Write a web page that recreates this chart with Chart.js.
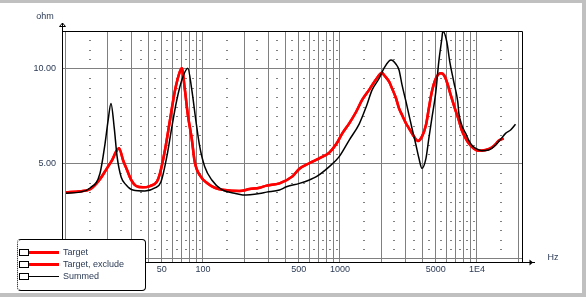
<!DOCTYPE html>
<html>
<head>
<meta charset="utf-8">
<script src="https://cdn.jsdelivr.net/npm/chart.js@4"></script>
<style>
  body { margin:0; background:#c0c0c0; width:586px; height:297px; overflow:hidden; position:relative; }
  #panel { position:absolute; left:0; top:3px; width:582px; height:290px; background:#fff; }
  #chart { position:absolute; left:0; top:0; }
  #legend { position:absolute; left:17px; top:239px; width:127px; height:50px; background:#fff;
            border:1px solid #000; border-left:1px dotted #000; border-radius:4px;
            font:9px "Liberation Sans", Arial, sans-serif; color:#2b3a55; }
  .row { position:absolute; left:0; height:12px; width:125px; }
  .box { position:absolute; left:1px; top:3px; width:8px; height:5px; border:1px solid #000; background:#fff; }
  .ln { position:absolute; left:11px; width:30px; }
  .tx { position:absolute; left:45px; top:0px; line-height:12px; white-space:pre; }
</style>
</head>
<body>
<div id="panel"></div>
<canvas id="chart" width="586" height="297"></canvas>
<div id="legend"></div>
<script>
// impedance curves, ohm over Hz
var targetFreq = [10, 12.7, 15, 17.7, 20, 21.7, 23.2, 24.4, 26.1, 27.9, 29.9, 32.5, 36.5, 41, 46.1, 48.5,
    52.8, 57.4, 62.4, 67.8, 70.1, 73.8, 77.5, 82.9, 87.1, 96.4, 107, 122, 144, 185, 219, 259, 291, 362,
    450, 506, 598, 707, 836, 940, 1040, 1169, 1314, 1452, 1633, 1837, 2030, 2099, 2285, 2400, 2567,
    2700, 2840, 3036, 3192, 3412, 3707, 3969, 4246, 4457, 4688, 5012, 5458, 5741, 6026, 6442, 6902,
    7379, 7745, 8279, 8710, 9484, 10300, 11590, 12820, 13710, 14420, 15670];
var targetOhm = [3.51, 3.56, 3.67, 4.2, 4.8, 5.2, 5.65, 5.83, 5.2, 4.68, 4.16, 3.84, 3.77, 3.84, 4.07, 4.5,
    5.74, 7.3, 8.85, 9.86, 10.04, 8.9, 7.6, 6.3, 5.1, 4.33, 4.0, 3.75, 3.63, 3.58, 3.68, 3.75, 3.86, 3.98,
    4.35, 4.75, 5.04, 5.3, 5.6, 6.05, 6.61, 7.14, 7.75, 8.37, 8.9, 9.46, 9.8, 9.68, 9.33, 8.98, 8.46,
    7.93, 7.58, 7.14, 6.88, 6.53, 6.21, 6.44, 7.05, 7.93, 8.8, 9.5, 9.77, 9.68, 9.33, 8.63, 7.93,
    7.3, 6.79, 6.35, 6.09, 5.82, 5.7, 5.74, 5.86, 6.04, 6.23, 6.35];

var summedFreq = [10, 12.7, 15, 17.7, 19.3, 20.3, 21.3, 22.5, 23.6, 25.3, 27.5, 30.8, 37.7, 44.6, 49.3,
    54.5, 59.3, 64.4, 70.1, 77.5, 82.9, 88.7, 94.8, 103, 116, 137, 170, 195, 259, 291, 362, 407, 506,
    598, 673, 836, 988, 1169, 1381, 1553, 1718, 1931, 2099, 2285, 2360, 2567, 2700, 2840, 3036, 3192,
    3357, 3589, 3773, 3969, 4246, 4457, 4688, 5012, 5272, 5546, 5636, 6026, 6339, 6776, 7244, 7379,
    7745, 8279, 8710, 9162, 9795, 10840, 12190, 13710, 14900, 16190, 17620, 19140];
var summedOhm = [3.46, 3.52, 3.74, 4.5, 6.1, 7.3, 8.19, 6.9, 5.4, 4.3, 3.9, 3.63, 3.58, 3.74, 4.05,
    5.4, 6.96, 8.37, 9.42, 10.04, 8.9, 7.3, 5.9, 4.86, 4.16, 3.65, 3.46, 3.37, 3.45, 3.52, 3.63, 3.8, 3.98,
    4.16, 4.33, 4.86, 5.39, 6.26, 7.1, 8.0, 8.9, 9.5, 10.04, 10.42, 10.47, 10.25, 9.95, 9.16, 8.28, 7.58,
    6.88, 6.0, 5.3, 4.77, 5.3, 6.35, 7.4, 8.8, 10.4, 11.6, 12.0, 11.44, 10.38, 9.33, 8.28, 7.68,
    7.05, 6.61, 6.26, 6.0, 5.82, 5.7, 5.74, 6.0, 6.3, 6.61, 6.79, 7.09];

// axes
var xGridFreqs = [10,20,30,40,50,60,70,80,90, 100,200,300,400,500,600,700,800,900,
    1000,2000,3000,4000,5000,6000,7000,8000,9000, 10000,20000];
var xLabelValues = [10, 20, 50, 100, 500, 1000, 5000, 10000];
var xLabelTexts = ["10", "20", "50", "100", "500", "1000", "5000", "1E4"];
var xDotFreqs = [15,25,35,45,55,65,75,85,95, 150,250,350,450,550,650,750,850,950,
    1500,2500,3500,4500,5500,6500,7500,8500,9500, 15000];
var yGridValues = [0, 5, 10];
var yDotValues = [0.5,1,1.5,2,2.5,3,3.5,4,4.5, 5.5,6,6.5,7,7.5,8,8.5,9,9.5, 10.5,11,11.5];

var textColor = "#2b3a55";
var fontFam = "'Liberation Sans', Arial, sans-serif";

function pts(fs, vs) {
    var out = [];
    for (var i = 0; i < fs.length; i++) out.push({x: fs[i], y: vs[i]});
    return out;
}

var frameAndDots = {
    id: "frameAndDots",
    beforeDatasetsDraw: function(chart) {
        var c = chart.ctx, xs = chart.scales.x, ys = chart.scales.y;
        c.save();
        c.fillStyle = "#808080";
        xDotFreqs.forEach(function(f) {
            var px = Math.round(xs.getPixelForValue(f));
            yDotValues.forEach(function(v) {
                var py = Math.round(ys.getPixelForValue(v));
                c.fillRect(px - 1, py, 2, 1);
            });
        });
        c.restore();
    },
    afterDraw: function(chart) {
        var c = chart.ctx, a = chart.chartArea;
        c.save();
        c.strokeStyle = "#000";
        c.fillStyle = "#000";
        c.lineWidth = 1;
        c.beginPath();
        c.moveTo(a.left + 0.5, a.top + 0.5);
        c.lineTo(a.right - 0.5, a.top + 0.5);
        c.lineTo(a.right - 0.5, a.bottom);
        c.stroke();
        // y arrow
        c.beginPath();
        c.moveTo(a.left + 0.5, a.top);
        c.lineTo(a.left + 0.5, a.top - 8);
        c.moveTo(a.left - 2.5, a.top - 4.5);
        c.lineTo(a.left + 3.5, a.top - 4.5);
        c.lineTo(a.left + 0.5, a.top - 8);
        c.closePath();
        c.stroke();
        // x arrow
        c.beginPath();
        c.moveTo(a.right, a.bottom + 0.5);
        c.lineTo(a.right + 12, a.bottom + 0.5);
        c.stroke();
        c.beginPath();
        c.moveTo(a.right + 6.5, a.bottom - 2.5);
        c.lineTo(a.right + 6.5, a.bottom + 3.5);
        c.lineTo(a.right + 10, a.bottom + 0.5);
        c.closePath();
        c.fill();
        c.fillStyle = textColor;
        c.font = "9px " + fontFam;
        c.textBaseline = "middle";
        c.textAlign = "center";
        c.fillText("ohm", 45, 17);
        c.fillText("Hz", 553, 258);
        c.restore();
    }
};

var datasets = [
    {label: "Target", data: pts(targetFreq, targetOhm), borderColor: "#ff0000", borderWidth: 2.5, order: 2},
    {label: "Target, exclude", data: pts(targetFreq, targetOhm), borderColor: "#ff0000", borderWidth: 2.5, order: 1},
    {label: "Summed", data: pts(summedFreq, summedOhm), borderColor: "#000000", borderWidth: 1.5, order: 0}
];
datasets.forEach(function(d) {
    d.pointRadius = 0;
    d.fill = false;
    d.cubicInterpolationMode = "monotone";
});

var chart = new Chart(document.getElementById("chart"), {
    type: "line",
    data: {datasets: datasets},
    options: {
        responsive: false,
        animation: false,
        devicePixelRatio: 1,
        layout: {padding: {top: 31, right: 63, left: 0, bottom: 0}},
        plugins: {legend: {display: false}, tooltip: {enabled: false}},
        scales: {
            x: {
                type: "logarithmic",
                min: 9.35,
                max: 21700,
                afterBuildTicks: function(s) { s.ticks = xGridFreqs.map(function(v) { return {value: v}; }); },
                afterFit: function(s) { s.height = 35; },
                ticks: {
                    autoSkip: false, maxRotation: 0, padding: 2, color: textColor,
                    font: {size: 9, family: fontFam},
                    callback: function(v) {
                        var i = xLabelValues.indexOf(v);
                        return i < 0 ? "" : xLabelTexts[i];
                    }
                },
                grid: {color: "#808080", drawTicks: false},
                border: {color: "#000"}
            },
            y: {
                min: -0.158,
                max: 12,
                afterBuildTicks: function(s) { s.ticks = yGridValues.map(function(v) { return {value: v}; }); },
                afterFit: function(s) { s.width = 62; },
                ticks: {
                    padding: 6, color: textColor,
                    font: {size: 9, family: fontFam},
                    callback: function(v) { return v === 0 ? "" : v.toFixed(2); }
                },
                grid: {color: "#808080", drawTicks: false},
                border: {color: "#000"}
            }
        }
    },
    plugins: [frameAndDots]
});

// legend box
var leg = document.getElementById("legend");
datasets.forEach(function(d, i) {
    var row = document.createElement("div");
    row.className = "row";
    row.style.top = (6 + i * 12) + "px";
    var lw = d.borderWidth >= 2 ? 3 : 1;
    row.innerHTML = '<div class="box"></div>' +
        '<div class="ln" style="top:' + (6 - Math.floor(lw / 2)) + 'px;height:' + lw + 'px;background:' + d.borderColor + '"></div>' +
        '<div class="tx">' + d.label + '</div>';
    leg.appendChild(row);
});
</script>
</body>
</html>
